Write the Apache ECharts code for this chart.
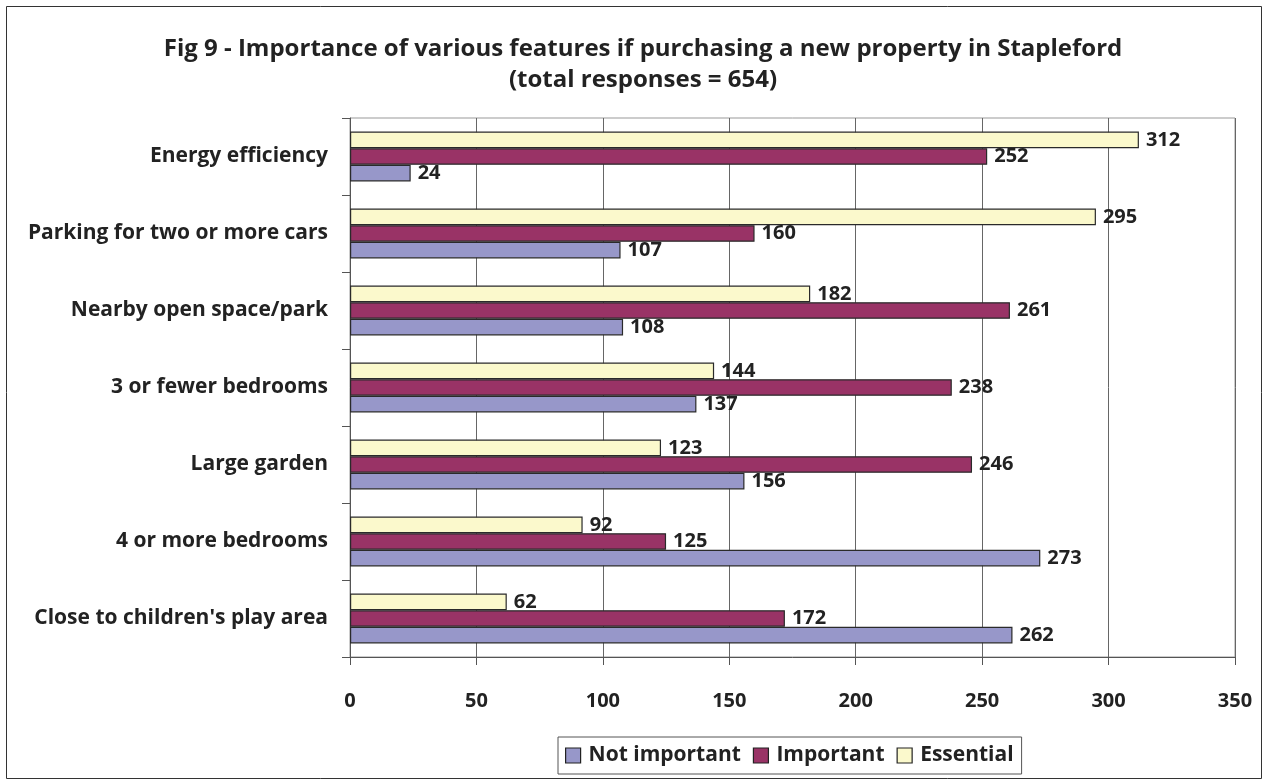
<!DOCTYPE html>
<html>
<head>
<meta charset="utf-8">
<script src="https://cdn.jsdelivr.net/npm/echarts@6/dist/echarts.min.js"></script>
<style>
  html, body { margin: 0; padding: 0; background: #fff; }
  #chart { width: 1267px; height: 783px; }
</style>
</head>
<body>
<div id="chart"></div>
<script>
// categories listed bottom to top
var categories = [
  "Close to children's play area",
  "4 or more bedrooms",
  "Large garden",
  "3 or fewer bedrooms",
  "Nearby open space/park",
  "Parking for two or more cars",
  "Energy efficiency"
];
var notImportant = [262, 273, 156, 137, 108, 107, 24];
var important = [172, 125, 246, 238, 261, 160, 252];
var essential = [62, 92, 123, 144, 182, 295, 312];
var xTicks = [0, 50, 100, 150, 200, 250, 300, 350];

var font = "'Open Sans', 'Liberation Sans', sans-serif";

function barSeries(name, data, color) {
  return {
    name: name,
    type: "bar",
    data: data,
    barWidth: 16.6,
    barGap: "0%",
    itemStyle: { color: color, borderColor: "#2a2a2a", borderWidth: 1.2 },
    label: {
      show: true,
      position: "right",
      distance: 7,
      fontFamily: font,
      fontWeight: "bold",
      fontSize: 20,
      color: "#222"
    }
  };
}

var chart = echarts.init(document.getElementById("chart"));
chart.setOption({
  animation: false,
  textStyle: { fontFamily: font },
  title: {
    text: "Fig 9 - Importance of various features if purchasing a new property in Stapleford\n(total responses = 654)",
    left: 638,
    textAlign: "center",
    top: 29,
    textStyle: { fontFamily: font, fontWeight: "bold", fontSize: 24, lineHeight: 31, color: "#222" }
  },
  legend: {
    left: 558,
    top: 737,
    icon: "rect",
    itemWidth: 15,
    itemHeight: 15,
    itemGap: 12,
    padding: [8, 8, 8, 7],
    borderColor: "#555",
    borderWidth: 1,
    backgroundColor: "#fff",
    itemStyle: { borderColor: "#222", borderWidth: 1.2 },
    textStyle: { fontFamily: font, fontWeight: "bold", fontSize: 21, color: "#222", padding: [0, 0, 0, 3] },
    data: ["Not important", "Important", "Essential"]
  },
  grid: {
    left: 350,
    right: 32,
    top: 118,
    bottom: 126,
    show: true,
    borderColor: "#999",
    borderWidth: 1
  },
  xAxis: {
    type: "value",
    min: xTicks[0],
    max: xTicks[xTicks.length - 1],
    interval: 50,
    axisLine: { show: true, lineStyle: { color: "#555" } },
    axisTick: { show: true, length: 8, lineStyle: { color: "#555" } },
    axisLabel: { margin: 34, fontFamily: font, fontWeight: "bold", fontSize: 20, color: "#222" },
    splitLine: { show: true, lineStyle: { color: "#666" } }
  },
  yAxis: {
    type: "category",
    data: categories,
    axisLine: { show: true, lineStyle: { color: "#555" } },
    axisTick: { show: true, length: 8, lineStyle: { color: "#555" } },
    axisLabel: { margin: 22, fontFamily: font, fontWeight: "bold", fontSize: 21, color: "#222" }
  },
  graphic: [{
    type: "rect",
    z: -1,
    shape: { x: 6.5, y: 6.5, width: 1255, height: 772 },
    style: { fill: null, stroke: "#333", lineWidth: 1 },
    silent: true
  }],
  series: [
    barSeries("Essential", essential, "#fbf9cc"),
    barSeries("Important", important, "#993366"),
    barSeries("Not important", notImportant, "#9797c9")
  ]
});
</script>
</body>
</html>
